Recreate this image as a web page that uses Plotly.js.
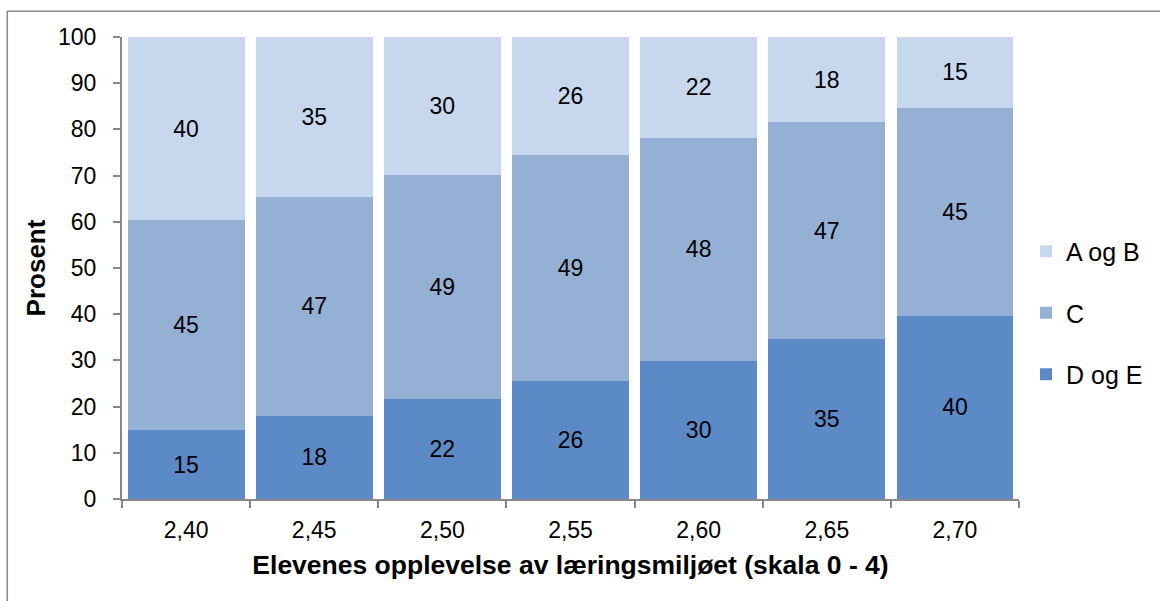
<!DOCTYPE html>
<html>
<head>
<meta charset="utf-8">
<script src="https://cdn.plot.ly/plotly-3.0.1.min.js"></script>
<style>
  html, body { margin: 0; padding: 0; background: #ffffff; }
  #chart { width: 1160px; height: 601px; }
</style>
</head>
<body>
<div id="chart"></div>
<script>
// Categories (x axis)
const categories = ["2,40", "2,45", "2,50", "2,55", "2,60", "2,65", "2,70"];

// Series values (percent)
const dogE = [14.9, 18.0, 21.6, 25.6, 29.9, 34.6, 39.7];
const cVals = [45.4, 47.4, 48.6, 48.8, 48.3, 47.0, 45.0];
const aogB = [39.7, 34.6, 29.8, 25.6, 21.8, 18.4, 15.3];

// Series names
const seriesNames = ["D og E", "C", "A og B"];

// Y tick values
const yTicks = [0, 10, 20, 30, 40, 50, 60, 70, 80, 90, 100];

const FONT = "Liberation Sans, Arial, sans-serif";

function barTrace(name, values, color, group, rank) {
  return {
    type: "bar",
    name: name,
    x: categories,
    y: values,
    legendgroup: group,
    legendrank: rank,
    marker: { color: color, line: { width: 0 } },
    texttemplate: "%{y:.0f}",
    textposition: "inside",
    insidetextanchor: "middle",
    textangle: 0,
    constraintext: "none",
    textfont: { family: FONT, size: 23, color: "#000000" },
    hoverinfo: "x+y+name"
  };
}

const data = [
  barTrace(seriesNames[0], dogE, "#5B8AC7", "g1", 3),
  barTrace(seriesNames[1], cVals, "#95B0D5", "g2", 2),
  barTrace(seriesNames[2], aogB, "#C6D7EE", "g3", 1)
];

const layout = {
  width: 1160,
  height: 601,
  barmode: "stack",
  bargap: 0.088,
  paper_bgcolor: "#ffffff",
  plot_bgcolor: "#ffffff",
  font: { family: FONT, color: "#000000" },
  margin: { l: 122, r: 141, t: 37.3, b: 102.3, pad: 0 },
  showlegend: true,
  legend: {
    x: 1.0078,
    xanchor: "left",
    y: 0.4025,
    yanchor: "middle",
    traceorder: "grouped",
    tracegroupgap: 26,
    font: { family: FONT, size: 25, color: "#000000" },
    bgcolor: "rgba(0,0,0,0)",
    borderwidth: 0
  },
  xaxis: {
    type: "category",
    showline: true,
    linecolor: "#888888",
    linewidth: 2,
    ticks: "outside",
    tickson: "boundaries",
    ticklen: 7,
    tickwidth: 2,
    tickcolor: "#888888",
    ticklabelstandoff: 9,
    tickfont: { family: FONT, size: 23, color: "#000000" },
    showgrid: false,
    zeroline: false,
    automargin: false,
    title: {
      text: "<b>Elevenes opplevelse av læringsmiljøet (skala 0 - 4)</b>",
      font: { family: FONT, size: 26.5, color: "#000000" },
      standoff: 14
    }
  },
  yaxis: {
    range: [0, 100],
    tickvals: yTicks,
    ticktext: yTicks.map(String),
    showline: true,
    linecolor: "#888888",
    linewidth: 2,
    ticks: "outside",
    ticklen: 7,
    tickwidth: 2,
    tickcolor: "#888888",
    ticklabelstandoff: 12,
    tickfont: { family: FONT, size: 23, color: "#000000" },
    showgrid: false,
    zeroline: false,
    automargin: false,
    title: {
      text: "<b>Prosent</b>",
      font: { family: FONT, size: 26, color: "#000000" },
      standoff: 5
    }
  },
  shapes: [
    {
      type: "rect",
      xref: "paper", yref: "paper",
      x0: -0.1279, x1: 2, y0: -1, y1: 1.0555,
      line: { color: "#8a8a8a", width: 1.5 },
      fillcolor: "rgba(0,0,0,0)",
      layer: "below"
    }
  ]
};

Plotly.newPlot("chart", data, layout, { displayModeBar: false, staticPlot: true });
</script>
</body>
</html>
